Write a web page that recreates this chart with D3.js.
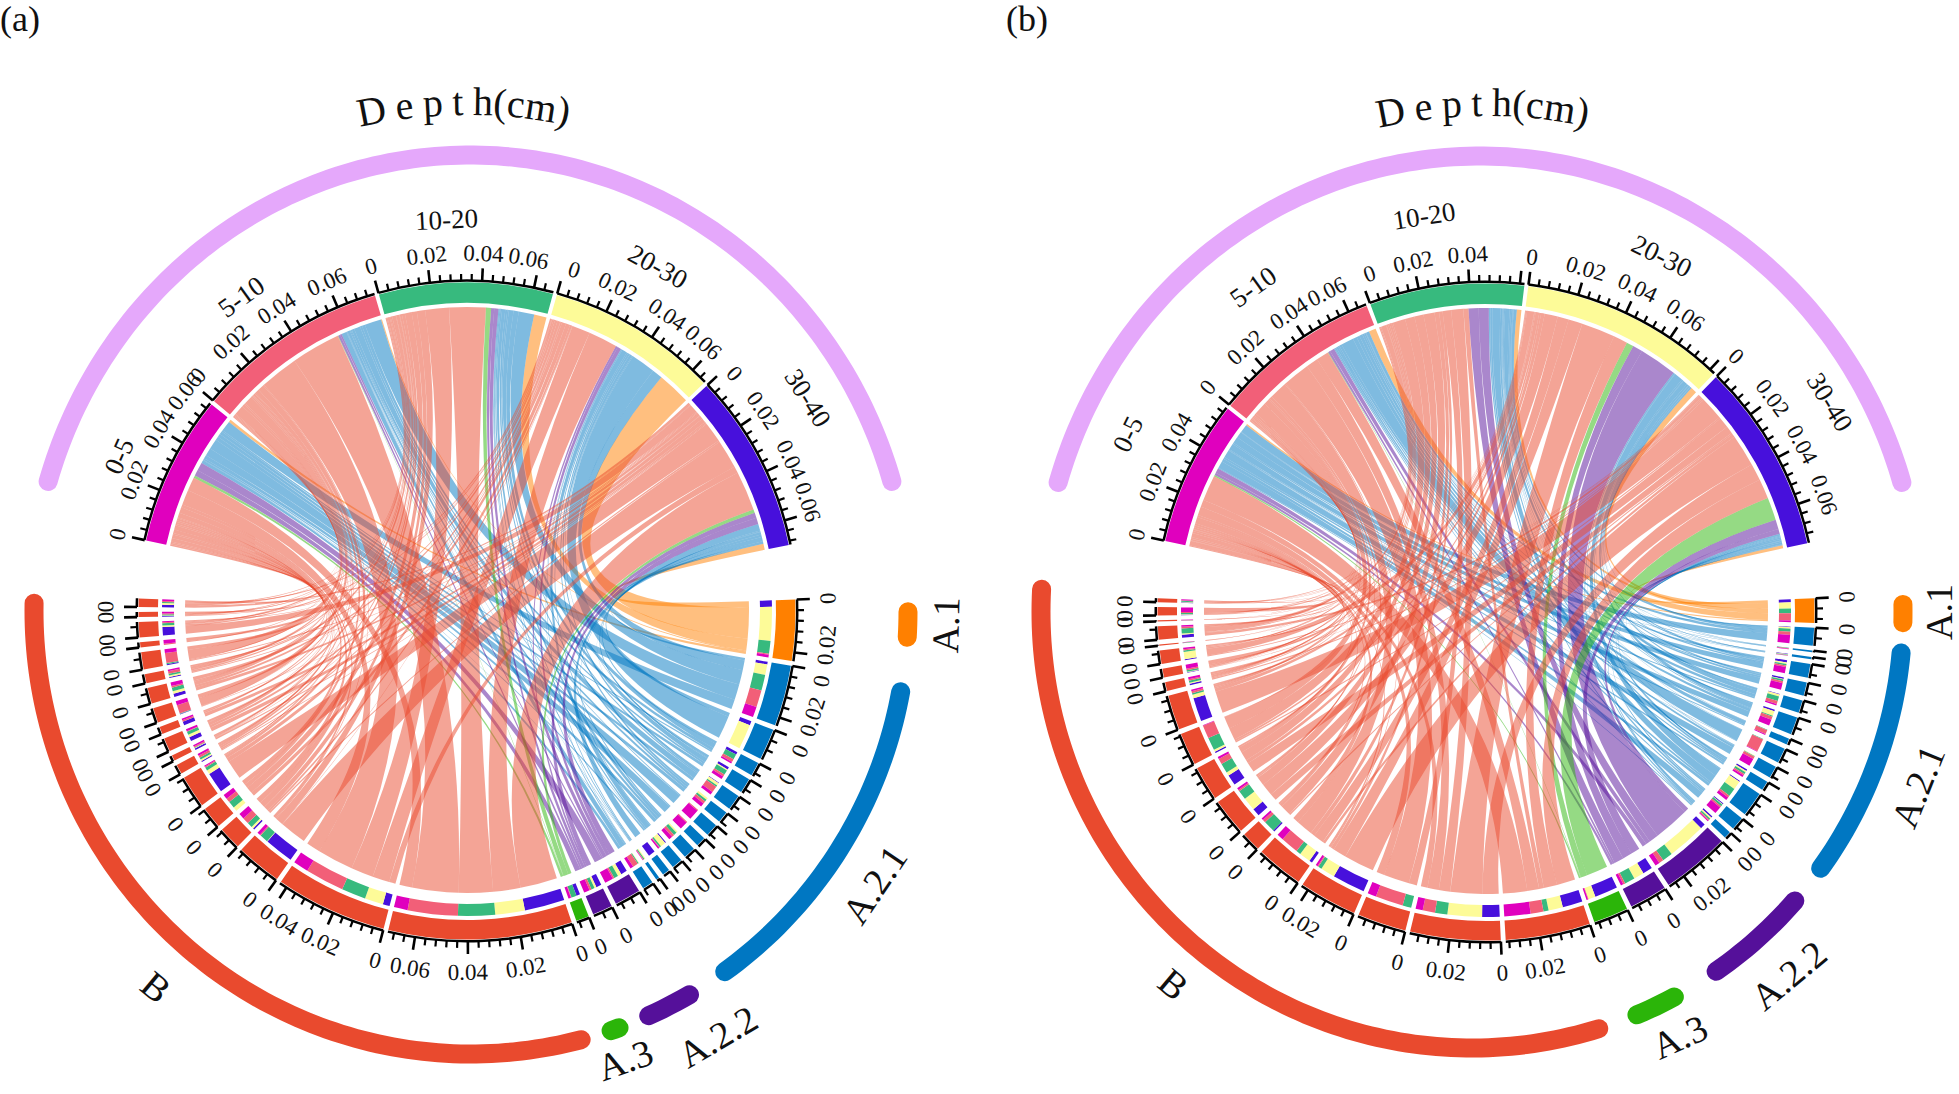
<!DOCTYPE html>
<html><head><meta charset="utf-8">
<style>html,body{margin:0;padding:0;background:#fff}svg{display:block}text{font-family:"Liberation Serif","Times New Roman",serif;fill:#111}</style>
<script src="https://cdn.jsdelivr.net/npm/d3@7"></script></head><body>
<script>
// Depth sectors, clockwise along the top half
const depths = ["0-5","5-10","10-20","20-30","30-40"];
const depthColors = ["#E000BE","#F25F78","#37BA7E","#FDFB98","#4710DC"];
// Column order of every flow row (clockwise inside a lower sector): 30-40, 20-30, 10-20, 5-10, 0-5
const flowColumnDepth = [4,3,2,1,0];
const groups = ["A.1","A.2.1","A.2.2","A.3","B"];
const groupColors = ["#FF8000","#0077C2","#55109A","#2BB509","#E94A2E"];
const flowUnit = 0.00218;          // one flow count
const tickStep = 0.004, majorEvery = 5;

// Chart (a)
const groupCountsA = [1,13,2,1,18];
const flowsA = [
 [1.2,6.4,2.4,.2,.5],
 [.5,2.0,3,3.2,2],[.8,4.7,0,0,0],[.5,0,1,.6,.3],[.5,.2,.9,.4,.6],[.1,.5,.3,1.2,.6],[0,.4,.4,.5,.7],[0,0,0,.2,2],
 [0,0,0,.2,1.5],[0,.3,.6,.5,.7],[.2,1,.3,.1,.3],[1.3,0,0,0,0],[0,.2,.2,.1,.1],[0,.1,.2,1.0,.6],
 [1.2,.7,.8,.3,1.6],[1,.4,.6,.4,1.1],
 [.7,0,1,.1,.5],
 [7.6,5.6,7.0,9.5,2.6],[1.3,3.5,4.6,7.4,2.9],[5.5,.1,1.6,.2,.6],[.3,.4,1,1.2,1.1],[0,.8,1.3,.8,.9],[3.9,.8,.6,.2,.2],
 [.2,.3,.4,.4,.4],[.3,.1,.1,.2,.3],[.8,.5,.6,.1,.4],[.7,0,0,.3,.3],[.1,0,.1,1.6,.8],[.6,.5,.7,.3,.7],[.2,.3,.3,.5,.3],
 [.2,0,.2,1.9,.7],[0,0,0,.2,.7],[1.6,.3,.4,.2,.2],[.1,.1,.2,.2,.3],[.5,.3,.2,.2,.3]];
const topTickLabelsA = [[0,.02,.04,.06],[0,.02,.04,.06],[0,.02,.04,.06],[0,.02,.04,.06],[0,.02,.04,.06]];
const topSpanA = [-77.6,78.4], lowerSpanA = [88,272.2];
const depthNameAnglesA = [-66,-35.7,-3,29,58], depthNameRadiiA = [381,387,392,394,402];
const trackSpansA = [[90.1,93.4],[100.5,144.5],[150,156],[160.2,161.3],[165.4,271]];
const groupLabelAnglesA = [91.7,123.9,149.5,160.6,219.6], groupLabelRadiiA = [479,491,494,476,488];

// Chart (b)
const groupCountsB = [1,14,2,1,18];
const flowsB = [
 [.6,1.2,.9,1.4,.3],
 [.1,.3,.6,.6,1.6],[0,0,.1,.1,.1],[.1,.1,.1,.05,.05],[.4,.3,.3,.3,1.2],[.3,.1,.3,.4,1.3],[.1,.4,.9,.6,.3],[.3,.9,.2,.6,1.2],
 [0,0,.1,.8,.2],[0,0,.1,2.5,.1],[0,.1,.1,.5,1.5],[.3,.3,.4,.3,.4],[.2,1.7,1.6,.4,.6],[.2,.1,.4,.3,1.4],[.3,.3,.3,.2,.2],
 [1,7.5,2,.9,.9],[1.9,2,2,.4,.5],
 [4.5,1.4,0,.1,.3],
 [3.9,2.8,1,2.5,5.1],[3.4,6.7,2.4,2.4,1.4],[0,0,1.7,5.4,1.7],[6.4,2.8,.7,.2,.4],[.6,2.2,.9,3.5,1.3],[.3,0,2.2,.6,.4],
 [1.5,2.6,1.8,.3,.4],[2.1,.7,1.9,1.1,.4],[.3,.4,2.5,2.6,.1],[4.6,.7,.3,.4,.3],[.3,.2,.4,.3,.4],[.1,.1,.3,.3,.8],
 [.2,1.4,.3,.2,.3],[0,0,.1,.05,.05],[.6,.2,1,.3,.3],[0,0,.05,.05,.1],[.1,.1,.2,.2,.9],[.1,.1,.2,.1,.2]];
const topTickLabelsB = [[0,.02,.04],[0,.02,.04,.06],[0,.02,.04],[0,.02,.04,.06],[0,.02,.04,.06]];
const topSpanB = [-77.5,77.9], lowerSpanB = [87.6,272.4];
const depthNameAnglesB = [-63.6,-35.6,-8.9,26.3,58.6], depthNameRadiiB = [400,400,401,397,403];
const trackSpansB = [[89,91.4],[95.4,126],[131.5,145.5],[152,157.5],[162.9,273]];
const groupLabelAnglesB = [90,112,140.2,155.5,220], groupLabelRadiiB = [453,466,473,467,486];

const charts = [
 {tag:"(a)",tagX:0,cx:467,cy:611,lavDx:3,trackDx:4,trackRx:437,trackRy:443,groupCounts:groupCountsA,flows:flowsA,topLabels:topTickLabelsA,topSpan:topSpanA,lowerSpan:lowerSpanA,nameAngles:depthNameAnglesA,nameRadii:depthNameRadiiA,tracks:trackSpansA,labelAngles:groupLabelAnglesA,labelRadii:groupLabelRadiiA},
 {tag:"(b)",tagX:1006,cx:1486,cy:612,lavDx:-6,trackDx:-14,trackRx:431,trackRy:436,groupCounts:groupCountsB,flows:flowsB,topLabels:topTickLabelsB,topSpan:topSpanB,lowerSpan:lowerSpanB,nameAngles:depthNameAnglesB,nameRadii:depthNameRadiiB,tracks:trackSpansB,labelAngles:groupLabelAnglesB,labelRadii:groupLabelRadiiB}
];

const W=1959,H=1094, rad=Math.PI/180, gapTop=.7, gapLow=.85;
const R={axis:330, ringOut:328.5, ringInTop:308, ribbonTop:304, ringInLow:309, subOut:305, subIn:293, ribbonLow:282, minor:7, major:13, tickLabelTop:358, tickLabelLow:361};
const svg=d3.select("body").append("svg").attr("width",W).attr("height",H).attr("viewBox",[0,0,W,H]);
const arc=d3.arc();
const ribbon=d3.ribbon().radius(d=>d.radius);
const fmt=v=>v===0?"0":d3.format(".2f")(v);

function layout(widths,span,gap){
  const total=d3.sum(widths);
  const sc=d3.scaleLinear().domain([0,total]).range([span[0],span[1]-gap*(widths.length-1)]);
  let cum=0;
  return widths.map((w,i)=>{const a0=sc(cum)+gap*i; cum+=w; const a1=sc(cum)+gap*i;
    return {a0,a1,count:w,val:d3.scaleLinear().domain([0,w*flowUnit]).range([a0,a1])};});
}
function ring(g,spans,r0,r1,color){
  g.selectAll(null).data(spans).join("path")
   .attr("d",d=>arc({innerRadius:r0,outerRadius:r1,startAngle:d.a0*rad,endAngle:d.a1*rad}))
   .attr("fill",(d,i)=>color(d,i));
}
// a last label that crowds the sector end leans back, and the next sector's "0" leans forward
function axes(g,sectors,labelsOf,labelR,flip){
  let crowded=false;
  sectors.forEach((s,si)=>{
    const labels=labelsOf(s,si), width=s.count*flowUnit, last=labels[labels.length-1];
    const nudge=v=>{
      if(v===0) return crowded?1.6:0;
      return (v===last && s.a1-s.val(v)<4.5)?-1.8:0;
    };
    const ag=g.append("g");
    ag.append("path").attr("d",arc({innerRadius:R.axis-1,outerRadius:R.axis+1.5,startAngle:s.a0*rad,endAngle:s.a1*rad})).attr("fill","#000");
    const n=Math.floor(width/tickStep+1e-9);
    ag.selectAll(null).data(d3.range(0,n+1)).join("line")
      .attr("transform",k=>`rotate(${s.val(k*tickStep)})`)
      .attr("y1",-R.axis).attr("y2",k=>-(R.axis+(k%majorEvery===0?R.major:R.minor)))
      .attr("stroke","#000").attr("stroke-width",k=>k%majorEvery===0?2.6:2.2);
    ag.selectAll(null).data(labels).join("text")
      .attr("transform",v=>`rotate(${s.val(v)+nudge(v)}) translate(0,${-labelR}) rotate(${flip?180:0})`)
      .attr("text-anchor","middle").attr("dy",".34em").attr("font-size",23).text(fmt);
    crowded = last>0 && s.a1-s.val(last)<4.5;
  });
}

charts.forEach(c=>{
  const root=svg.append("g").attr("transform",`translate(${c.cx},${c.cy})`);
  svg.append("text").attr("x",c.tagX).attr("y",31).attr("font-size",36).text(c.tag);
  const sectorGroup=c.groupCounts.flatMap((n,i)=>d3.range(n).map(()=>i));
  const lowWidths=c.flows.map(r=>d3.sum(r));
  const topWidths=depths.map((_,j)=>d3.sum(c.flows,r=>r[flowColumnDepth.indexOf(j)]));
  const low=layout(lowWidths,c.lowerSpan,gapLow), top=layout(topWidths,c.topSpan,gapTop);
  const kLow=(low[0].a1-low[0].a0)/lowWidths[0], kTop=(top[0].a1-top[0].a0)/topWidths[0];

  // ribbon ends: inside a top sector the lower sectors run last-to-first, inside a lower sector depths run 30-40 → 0-5
  const links=[], sub=[];
  const topCursor=top.map(t=>t.a0);
  for(let i=c.flows.length-1;i>=0;i--){
    c.flows[i].forEach((v,col)=>{
      if(!v) return; const j=flowColumnDepth[col];
      links.push({i,j,col,t0:topCursor[j],t1:topCursor[j]+v*kTop}); topCursor[j]+=v*kTop;
    });
  }
  const lowCursor=low.map(s=>s.a0);
  c.flows.forEach((r,i)=>r.forEach((v,col)=>{
    if(!v) return; const a0=lowCursor[i],a1=a0+v*kLow; lowCursor[i]=a1;
    sub.push({a0,a1,j:flowColumnDepth[col]});
    const l=links.find(l=>l.i===i&&l.col===col); l.l0=a0; l.l1=a1;
  }));

  const gr=root.append("g");
  const ordered=links.slice().sort((a,b)=>a.i-b.i);
  gr.selectAll("path").data(ordered).join("path")
    .attr("d",l=>ribbon({source:{startAngle:l.t0*rad,endAngle:l.t1*rad,radius:R.ribbonTop},target:{startAngle:l.l0*rad,endAngle:l.l1*rad,radius:R.ribbonLow}}))
    .attr("fill",l=>groupColors[sectorGroup[l.i]]).attr("fill-opacity",.5);

  ring(root,top,R.ringInTop,R.ringOut,(d,i)=>depthColors[i]);
  ring(root,low,R.ringInLow,R.ringOut,(d,i)=>groupColors[sectorGroup[i]]);
  ring(root,sub,R.subIn,R.subOut,d=>depthColors[d.j]);

  axes(root,top,(s,i)=>c.topLabels[i],R.tickLabelTop,false);
  axes(root,low,s=>d3.range(0,s.count*flowUnit+1e-9,.02),R.tickLabelLow,true);

  root.selectAll(null).data(depths).join("text")
    .attr("transform",(d,i)=>`rotate(${c.nameAngles[i]}) translate(0,${-c.nameRadii[i]})`)
    .attr("text-anchor","middle").attr("dy",".34em").attr("font-size",27).text(d=>d);

  // outer hand-drawn tracks
  const trackLine=(rx,ry)=>d3.line().x(a=>rx*Math.sin(a*rad)).y(a=>-ry*Math.cos(a*rad));
  const lav=root.append("g").attr("transform",`translate(${c.lavDx},0)`).attr("fill","none").attr("stroke-linecap","round").attr("stroke-width",19);
  lav.append("path").attr("d",trackLine(440,456)(d3.range(-73.5,73.6,1))).attr("stroke","#E5A8FB");
  const tg=root.append("g").attr("transform",`translate(${c.trackDx},0)`).attr("fill","none").attr("stroke-linecap","round").attr("stroke-width",19);
  c.tracks.forEach((t,i)=>{
    const n=Math.max(2,Math.ceil(t[1]-t[0])+1);
    tg.append("path").attr("d",trackLine(c.trackRx,c.trackRy)(d3.range(n).map(k=>t[0]+(t[1]-t[0])*k/(n-1)))).attr("stroke",groupColors[i]);
  });
  root.selectAll(null).data(groups).join("text")
    .attr("transform",(d,i)=>`rotate(${c.labelAngles[i]}) translate(0,${-c.labelRadii[i]}) rotate(180)`)
    .attr("text-anchor","middle").attr("dy",".34em").attr("font-size",38).text(d=>d);

  // curved heading
  const id="dp"+c.tagX;
  root.append("path").attr("id",id).attr("fill","none").attr("d",trackLine(496,496)(d3.range(-40,41,2)));
  root.append("text").attr("font-size",40).attr("word-spacing","-1px").append("textPath").attr("href","#"+id).attr("startOffset","49.5%").attr("text-anchor","middle").text("D e p t h(cm)");
});
</script></body></html>
